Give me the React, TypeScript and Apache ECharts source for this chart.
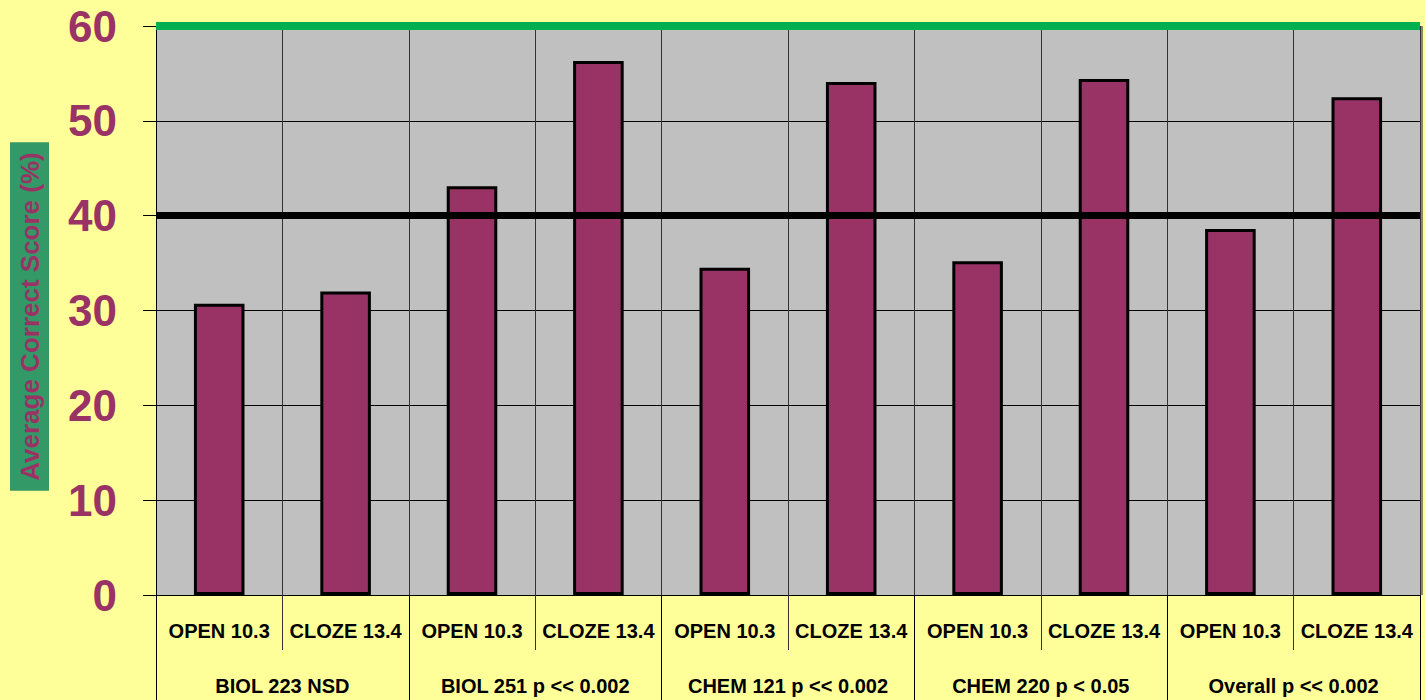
import React, { useEffect, useRef } from "react";
import * as echarts from "echarts";

const conditions = [
  "OPEN 10.3", "CLOZE 13.4",
  "OPEN 10.3", "CLOZE 13.4",
  "OPEN 10.3", "CLOZE 13.4",
  "OPEN 10.3", "CLOZE 13.4",
  "OPEN 10.3", "CLOZE 13.4",
];
const groups = [
  "BIOL 223 NSD",
  "BIOL 251 p << 0.002",
  "CHEM 121 p << 0.002",
  "CHEM 220 p < 0.05",
  "Overall p << 0.002",
];
const scores = [30.7, 32.0, 43.1, 56.3, 34.5, 54.1, 35.2, 54.4, 38.6, 52.5];
const yTicks = { min: 0, max: 60, interval: 10 };
const blackLineValue = 40;
const yAxisTitle = "Average Correct Score (%)";

const FONT = 'Arial, "Liberation Sans", sans-serif';
const PURPLE = "#993366";

export default function App() {
  const ref = useRef<HTMLDivElement>(null);
  useEffect(() => {
    if (!ref.current) return;
    const chart = echarts.init(ref.current, undefined, { renderer: "svg" });
    chart.setOption({
      animation: false,
      backgroundColor: "#ffff99",
      textStyle: { fontFamily: FONT },
      grid: {
        left: 156,
        right: 5,
        top: 26,
        bottom: 105,
        show: true,
        backgroundColor: "#c0c0c0",
        borderWidth: 0,
        shadowColor: "rgba(0,0,0,0.45)",
        shadowOffsetX: 3,
        shadowOffsetY: 0,
        shadowBlur: 0,
      },
      graphic: [
        {
          type: "text",
          x: 29.5,
          y: 316.5,
          rotation: Math.PI / 2,
          z: 10,
          style: {
            text: yAxisTitle,
            fontFamily: FONT,
            fontSize: 26,
            fontWeight: "bold",
            fill: PURPLE,
            align: "center",
            verticalAlign: "middle",
            backgroundColor: "#339966",
            padding: [7, 10, 6, 10],
          },
        },
      ],
      xAxis: [
        {
          type: "category",
          data: conditions,
          position: "bottom",
          axisLine: { show: true, lineStyle: { color: "#000", width: 1 } },
          axisTick: {
            show: true,
            interval: 0,
            length: 55,
            lineStyle: { color: "#333", width: 1 },
          },
          axisLabel: {
            interval: 0,
            margin: 26,
            color: "#000",
            fontSize: 20,
            fontWeight: "bold",
            fontFamily: FONT,
          },
          splitLine: {
            show: true,
            interval: 0,
            lineStyle: { color: "#333", width: 1 },
          },
        },
        {
          type: "category",
          data: groups,
          position: "bottom",
          axisLine: { show: false },
          axisTick: {
            show: true,
            interval: 0,
            length: 105,
            lineStyle: { color: "#000", width: 1 },
          },
          axisLabel: {
            interval: 0,
            margin: 81,
            color: "#000",
            fontSize: 20,
            fontWeight: "bold",
            fontFamily: FONT,
          },
          splitLine: { show: false },
        },
        {
          // green line along the top of the plot (the y-axis maximum)
          type: "category",
          data: conditions,
          position: "top",
          z: 20,
          axisLine: { show: true, lineStyle: { color: "#00b050", width: 8, cap: "butt" } },
          axisTick: { show: false },
          axisLabel: { show: false },
          splitLine: { show: false },
        },
      ],
      yAxis: {
        type: "value",
        min: yTicks.min,
        max: yTicks.max,
        interval: yTicks.interval,
        axisLine: { show: true, lineStyle: { color: "#000", width: 1 } },
        axisTick: { show: true, length: 13, lineStyle: { color: "#000", width: 1 } },
        axisLabel: {
          margin: 39,
          color: PURPLE,
          fontSize: 44,
          fontWeight: "bold",
          fontFamily: FONT,
        },
        splitLine: { show: true, lineStyle: { color: "#000", width: 1 } },
      },
      series: [
        {
          type: "bar",
          xAxisIndex: 0,
          data: scores,
          barWidth: "40%",
          itemStyle: {
            color: PURPLE,
            borderColor: "#000",
            borderWidth: 3,
          },
          markLine: {
            silent: true,
            symbol: ["none", "none"],
            label: { show: false },
            data: [
              { yAxis: blackLineValue, lineStyle: { color: "#000", width: 7, type: "solid" } },
            ],
          },
        },
      ],
    });
    return () => chart.dispose();
  }, []);
  return (
    <div
      ref={ref}
      style={{ position: "fixed", left: 0, top: 0, width: 1425, height: 700 }}
    />
  );
}
